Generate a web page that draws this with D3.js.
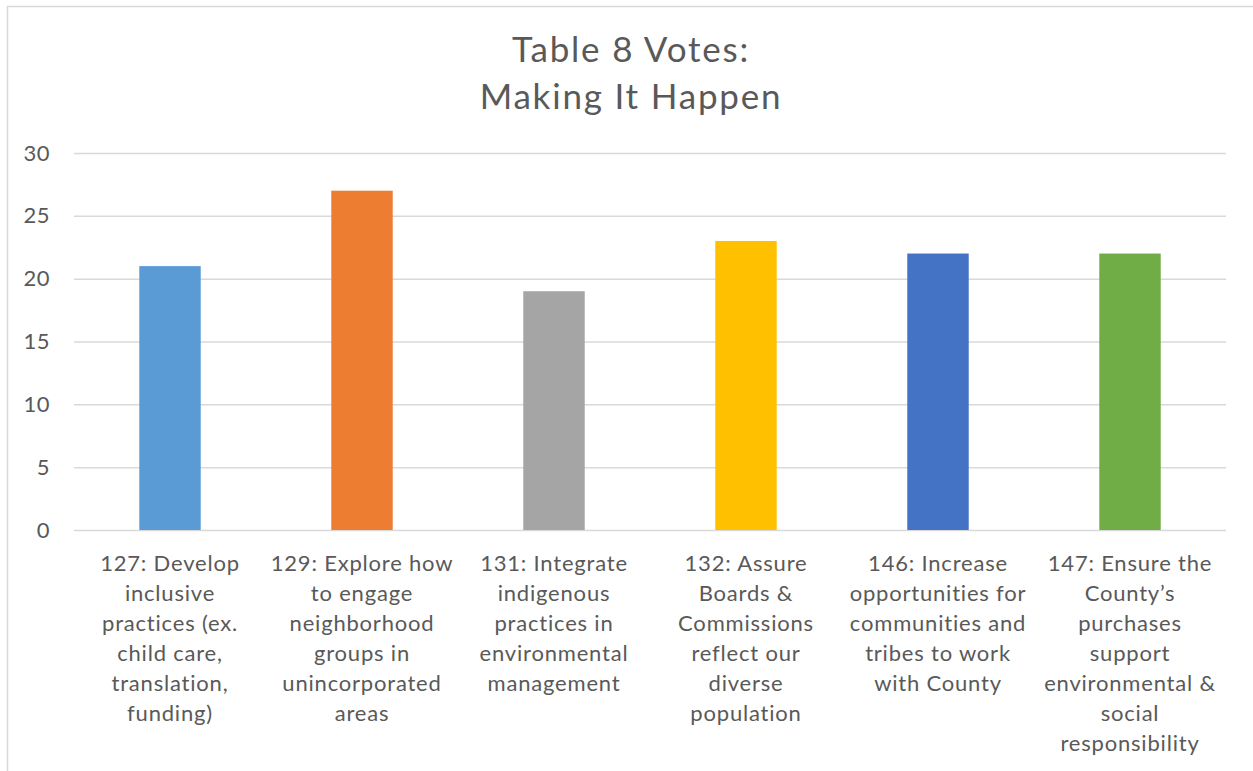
<!DOCTYPE html>
<html>
<head>
<meta charset="utf-8">
<script src="https://cdn.jsdelivr.net/npm/d3@7/dist/d3.min.js"></script>
<style>
html,body{margin:0;padding:0;background:#fff;}
svg{display:block;}
text{font-family:"Lato","Open Sans","Noto Sans",sans-serif;fill:#595959;font-weight:400;}
</style>
</head>
<body>
<svg id="chart" width="1253" height="771"></svg>
<script>
const titleLines = ["Table 8 Votes:", "Making It Happen"];
const categories = [
  "127: Develop inclusive practices (ex. child care, translation, funding)",
  "129: Explore how to engage neighborhood groups in unincorporated areas",
  "131: Integrate indigenous practices in environmental management",
  "132: Assure Boards & Commissions reflect our diverse population",
  "146: Increase opportunities for communities and tribes to work with County",
  "147: Ensure the County\u2019s purchases support environmental & social responsibility"
];
const labelLines = [
  ["127: Develop", "inclusive", "practices (ex.", "child care,", "translation,", "funding)"],
  ["129: Explore how", "to engage", "neighborhood", "groups in", "unincorporated", "areas"],
  ["131: Integrate", "indigenous", "practices in", "environmental", "management"],
  ["132: Assure", "Boards &", "Commissions", "reflect our", "diverse", "population"],
  ["146: Increase", "opportunities for", "communities and", "tribes to work", "with County"],
  ["147: Ensure the", "County\u2019s", "purchases", "support", "environmental &", "social", "responsibility"]
];
const values = [21, 27, 19, 23, 22, 22];
const colors = ["#5B9BD5", "#ED7D31", "#A5A5A5", "#FFC000", "#4472C4", "#70AD47"];
const yTicks = [0, 5, 10, 15, 20, 25, 30];

const svg = d3.select("#chart");
const W = 1253, H = 771;
const plot = {left: 74, right: 1226, top: 153, bottom: 530};

// chart border
svg.append("rect").attr("x", 7.5).attr("y", 6.5).attr("width", W + 10).attr("height", H + 10)
  .attr("fill", "none").attr("stroke", "#d9d9d9").attr("stroke-width", 1.5);

const x = d3.scaleBand().domain(categories).range([plot.left, plot.right]).paddingInner(0.68).paddingOuter(0.34);
const y = d3.scaleLinear().domain([0, 30]).range([plot.bottom, plot.top]);

// gridlines
const yAxis = d3.axisLeft(y).tickValues(yTicks).tickSize(-(plot.right - plot.left)).tickPadding(24);
const gy = svg.append("g").attr("transform", `translate(${plot.left},0)`).call(yAxis);
gy.select(".domain").remove();
gy.selectAll(".tick line").attr("stroke", "#d9d9d9").attr("stroke-width", 1.5);
gy.selectAll(".tick text").attr("font-family", null)
  .style("font-size", "22px").style("letter-spacing", "0.5px")
  .attr("fill", "#595959").attr("dy", "0.32em");

// bars
svg.append("g").selectAll("rect").data(categories).join("rect")
  .attr("x", d => x(d)).attr("width", x.bandwidth())
  .attr("y", (d, i) => y(values[i])).attr("height", (d, i) => y(0) - y(values[i]))
  .attr("fill", (d, i) => colors[i]);

// x axis labels
const gx = svg.append("g");
categories.forEach((c, i) => {
  const t = gx.append("text").attr("text-anchor", "middle")
    .attr("x", x(c) + x.bandwidth() / 2).attr("y", 571)
    .style("font-size", "22px").style("letter-spacing", "0.8px");
  labelLines[i].forEach((ln, j) => {
    t.append("tspan").attr("x", x(c) + x.bandwidth() / 2).attr("y", 571 + j * 30).text(ln);
  });
});

// title
const tt = svg.append("text").attr("text-anchor", "middle").style("font-size", "35px").style("letter-spacing", "1.8px");
titleLines.forEach((ln, j) => {
  tt.append("tspan").attr("x", 631).attr("y", 62 + j * 47).text(ln);
});
</script>
</body>
</html>
